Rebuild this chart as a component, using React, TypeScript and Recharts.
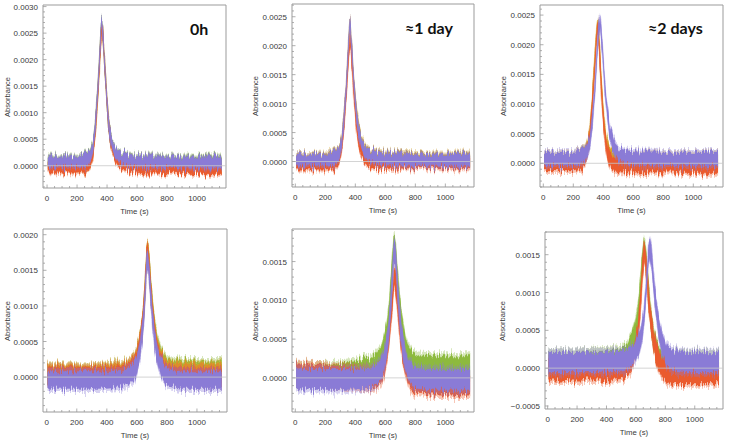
import React from "react";
import { ComposedChart, Area, XAxis, YAxis, ReferenceLine, ReferenceArea } from "recharts";

const PURPLE = "#8a7bd6";
const RED = "#ea5b2e";
const YELLOW = "#d3a62b";
const GREEN = "#8dba3e";
const FRAME = "#9b9b9b";
const LABEL = "#3a3a3a";
const FONT = "'Liberation Sans', Arial, sans-serif";

// time axis labels, shared by all six panels
const xTickLabels = [0, 200, 400, 600, 800, 1000];

// 0h
const p1Time = [5, 100, 200, 260, 290, 305, 320, 335, 350, 360, 366, 372, 382, 395, 410, 425, 445, 470, 500, 550, 650, 800, 950, 1165];
const p1Yellow = [0.0, 0.0, -0.00001, 0.0, 0.00008, 0.00024, 0.0006, 0.0012, 0.0019, 0.0025, 0.0026, 0.0025, 0.002, 0.0014, 0.0008, 0.00048, 0.00025, 0.00013, 0.00006, 0.00002, 0.0, -0.00001, -0.00001, -0.00001];
const p1Green = [0.00009, 0.00009, 0.00009, 0.00011, 0.0002, 0.00037, 0.0007, 0.0013, 0.002, 0.0026, 0.0027, 0.0025, 0.002, 0.0014, 0.0008, 0.0005, 0.0003, 0.0002, 0.00015, 0.00011, 0.00009, 0.00009, 0.00009, 0.00009];
const p1Red = [-0.00004, -0.00004, -0.00004, -0.00002, 0.00006, 0.00022, 0.00058, 0.0012, 0.0019, 0.0024, 0.0026, 0.0025, 0.002, 0.0014, 0.0008, 0.00045, 0.00022, 0.0001, 0.00003, -0.00001, -0.00004, -0.00005, -0.00005, -0.00005];
const p1Purple = [0.00008, 0.00008, 0.00008, 0.0001, 0.00018, 0.00035, 0.0007, 0.0013, 0.002, 0.0026, 0.0027, 0.0025, 0.002, 0.0014, 0.0008, 0.0005, 0.0003, 0.0002, 0.00014, 0.0001, 0.00008, 0.00008, 0.00007, 0.00007];
const p1YLabels = [0, 0.0005, 0.001, 0.0015, 0.002, 0.0025, 0.003];

// ≈1 day
const p2Time = [5, 100, 200, 260, 290, 305, 320, 335, 350, 358, 364, 370, 380, 392, 408, 425, 445, 470, 500, 550, 650, 800, 950, 1165];
const p2Yellow = [0.00004, 0.00004, 0.00005, 0.00007, 0.00014, 0.0003, 0.00062, 0.0011, 0.0018, 0.0022, 0.0024, 0.0022, 0.0018, 0.0013, 0.00085, 0.00052, 0.0003, 0.00018, 0.00012, 0.00008, 0.00006, 0.00006, 0.00005, 0.00005];
const p2Red = [-0.00005, -0.00005, -0.00005, -0.00003, 0.00004, 0.0002, 0.0005, 0.001, 0.0016, 0.0019, 0.0021, 0.002, 0.0016, 0.0011, 0.0006, 0.00032, 0.00014, 0.00004, -0.00001, -0.00003, -0.00002, -0.00001, -0.00001, -0.00001];
const p2Purple = [0.00003, 0.00003, 0.00003, 0.00005, 0.00012, 0.00028, 0.0006, 0.0011, 0.0018, 0.0022, 0.0024, 0.0022, 0.0018, 0.0013, 0.0008, 0.00048, 0.00027, 0.00015, 0.0001, 0.00006, 0.00004, 0.00003, 0.00003, 0.00003];
const p2YLabels = [0, 0.0005, 0.001, 0.0015, 0.002, 0.0025];

// ≈2 days
const p3Time = [5, 100, 200, 250, 280, 300, 315, 330, 345, 355, 362, 370, 378, 386, 395, 410, 425, 440, 460, 480, 510, 560, 650, 800, 950, 1165];
const p3Yellow = [0.00006, 0.00006, 0.00006, 0.0001, 0.00018, 0.00035, 0.00065, 0.0012, 0.0018, 0.0022, 0.00235, 0.0022, 0.0018, 0.0014, 0.001, 0.00058, 0.0003, 0.00016, 0.0001, 0.00008, 0.00007, 0.00006, 0.00006, 0.00006, 0.00006, 0.00006];
const p3Red = [-0.00002, -0.00002, -0.00002, 0.0, 0.0001, 0.0003, 0.0006, 0.0011, 0.0017, 0.0021, 0.0023, 0.0021, 0.0017, 0.0013, 0.0009, 0.00048, 0.00022, 0.00008, 0.0, -0.00003, -0.00004, -0.00004, -0.00004, -0.00004, -0.00005, -0.00005];
const p3Purple = [0.00008, 0.00008, 0.00008, 0.0001, 0.00016, 0.00026, 0.00045, 0.0008, 0.0013, 0.0017, 0.002, 0.0023, 0.0024, 0.0022, 0.0019, 0.0013, 0.0009, 0.00058, 0.00035, 0.00022, 0.00014, 0.0001, 0.00009, 0.00008, 0.00008, 0.00008];
const p3YLabels = [0, 0.0005, 0.001, 0.0015, 0.002, 0.0025];

// second injection series
const p4Time = [5, 100, 200, 300, 400, 500, 550, 580, 600, 620, 635, 648, 658, 665, 672, 680, 690, 705, 720, 740, 760, 790, 830, 900, 1000, 1165];
const p4Green = [0.00003, 0.00003, 0.00003, 0.00003, 0.00004, 0.00006, 0.00009, 0.00016, 0.00027, 0.00046, 0.0007, 0.001, 0.0014, 0.0017, 0.00175, 0.00165, 0.00135, 0.00096, 0.00065, 0.00042, 0.00028, 0.00017, 0.00012, 0.0001, 0.0001, 0.0001];
const p4Yellow = [0.00004, 0.00004, 0.00004, 0.00004, 0.00005, 0.00007, 0.0001, 0.00017, 0.00028, 0.00048, 0.00072, 0.00102, 0.00142, 0.00172, 0.00178, 0.00165, 0.00135, 0.00095, 0.00063, 0.0004, 0.00025, 0.00014, 0.00009, 0.00007, 0.00007, 0.00007];
const p4Red = [0.00002, 0.00002, 0.00002, 0.00002, 0.00002, 0.00004, 0.00008, 0.00015, 0.00026, 0.00045, 0.0007, 0.001, 0.0014, 0.0017, 0.00175, 0.0016, 0.0013, 0.0009, 0.00058, 0.00034, 0.0002, 0.00008, 0.00003, 0.00001, 0.00001, 0.00001];
const p4Purple = [-0.00004, -0.00004, -0.00004, -0.00004, -0.00004, -0.00002, 0.00002, 0.00008, 0.00018, 0.00036, 0.0006, 0.0009, 0.0013, 0.0016, 0.00165, 0.0015, 0.0012, 0.0008, 0.0005, 0.00028, 0.00014, 0.00003, -0.00002, -0.00004, -0.00004, -0.00004];
const p4YLabels = [0, 0.0005, 0.001, 0.0015, 0.002];

const p5Time = [5, 100, 200, 300, 400, 500, 540, 570, 590, 610, 625, 638, 648, 656, 662, 670, 680, 695, 710, 730, 750, 780, 820, 900, 1000, 1165];
const p5Green = [0.00003, 0.00003, 0.00004, 0.00006, 0.00008, 0.00012, 0.00018, 0.00026, 0.00038, 0.0006, 0.00085, 0.0012, 0.0015, 0.0017, 0.0017, 0.00158, 0.0013, 0.00095, 0.00068, 0.00045, 0.0003, 0.0002, 0.00016, 0.00015, 0.00015, 0.00015];
const p5Red = [0.00004, 0.00004, 0.00003, 0.00002, 0.0, -0.00001, 0.00001, 0.00006, 0.00015, 0.00033, 0.00055, 0.0008, 0.001, 0.00125, 0.0013, 0.0012, 0.001, 0.00068, 0.0004, 0.0002, 0.00006, -0.00004, -0.00007, -0.00008, -0.00008, -0.00008];
const p5Purple = [-0.00001, -0.00002, -0.00002, -0.00002, -0.00002, 0.0, 0.00004, 0.0001, 0.0002, 0.0004, 0.00065, 0.001, 0.0013, 0.0016, 0.00165, 0.0015, 0.0012, 0.0008, 0.0005, 0.00026, 0.00012, 0.00003, -0.00001, -0.00002, -0.00002, -0.00002];
const p5YLabels = [0, 0.0005, 0.001, 0.0015];

const p6Time = [5, 100, 200, 300, 400, 500, 540, 570, 595, 615, 632, 645, 655, 665, 675, 685, 695, 705, 718, 735, 755, 780, 810, 850, 950, 1165];
const p6Green = [0.00008, 0.00008, 0.00008, 0.00009, 0.0001, 0.00013, 0.0002, 0.00032, 0.00048, 0.00072, 0.0011, 0.0014, 0.0016, 0.0015, 0.0013, 0.001, 0.0008, 0.0006, 0.00042, 0.00026, 0.00015, 0.00009, 0.00007, 0.00007, 0.00007, 0.00007];
const p6Red = [-0.00003, -0.00003, -0.00003, -0.00003, -0.00003, -0.00001, 0.00003, 0.0001, 0.00025, 0.0005, 0.0009, 0.0013, 0.00155, 0.00145, 0.0012, 0.00095, 0.00075, 0.00058, 0.0004, 0.00022, 0.0001, 0.0, -0.00005, -0.00008, -0.00008, -0.00008];
const p6Purple = [0.00008, 0.00008, 0.00008, 0.00008, 0.00009, 0.0001, 0.00012, 0.00016, 0.00022, 0.0003, 0.0004, 0.00052, 0.00068, 0.00092, 0.0012, 0.0015, 0.00158, 0.0015, 0.0012, 0.00085, 0.00055, 0.0003, 0.00017, 0.0001, 0.00008, 0.00008];
const p6YLabels = [-0.0005, 0, 0.0005, 0.001, 0.0015];

interface Trace {
  key: string;
  color: string;
  values: number[];
}

interface PanelSpec {
  title?: string;
  titleLeft?: number;
  titleTop?: number;
  left: number;
  top: number;
  width: number;
  height: number;
  xDomain: [number, number];
  yDomain: [number, number];
  yLabels: number[];
  time: number[];
  traces: Trace[];
  noise: [number, number]; // [dense band half-width, spike half-width]
  absGap: number;
}

const panels: PanelSpec[] = [
  {
    title: "0h", titleLeft: 190, titleTop: 21,
    left: 43, top: 5, width: 183, height: 183,
    xDomain: [-27, 1193], yDomain: [-0.00042, 0.00303], yLabels: p1YLabels,
    time: p1Time, noise: [0.0001, 0.00014], absGap: 35,
    traces: [
      { key: "yellow", color: YELLOW, values: p1Yellow },
      { key: "green", color: GREEN, values: p1Green },
      { key: "red", color: RED, values: p1Red },
      { key: "purple", color: PURPLE, values: p1Purple },
    ],
  },
  {
    title: "≈1 day", titleLeft: 405, titleTop: 20,
    left: 292, top: 4, width: 182, height: 183,
    xDomain: [-22, 1191], yDomain: [-0.00044, 0.00272], yLabels: p2YLabels,
    time: p2Time, noise: [0.0001, 0.00014], absGap: 36,
    traces: [
      { key: "yellow", color: YELLOW, values: p2Yellow },
      { key: "red", color: RED, values: p2Red },
      { key: "purple", color: PURPLE, values: p2Purple },
    ],
  },
  {
    title: "≈2 days", titleLeft: 648, titleTop: 20,
    left: 540, top: 5, width: 183, height: 182,
    xDomain: [-22, 1198], yDomain: [-0.0004, 0.00267], yLabels: p3YLabels,
    time: p3Time, noise: [0.00011, 0.00016], absGap: 36,
    traces: [
      { key: "yellow", color: YELLOW, values: p3Yellow },
      { key: "red", color: RED, values: p3Red },
      { key: "purple", color: PURPLE, values: p3Purple },
    ],
  },
  {
    left: 43, top: 229, width: 184, height: 183,
    xDomain: [-25, 1200], yDomain: [-0.00049, 0.00208], yLabels: p4YLabels,
    time: p4Time, noise: [0.00012, 0.00017], absGap: 35,
    traces: [
      { key: "green", color: GREEN, values: p4Green },
      { key: "yellow", color: YELLOW, values: p4Yellow },
      { key: "red", color: RED, values: p4Red },
      { key: "purple", color: PURPLE, values: p4Purple },
    ],
  },
  {
    left: 292, top: 229, width: 182, height: 183,
    xDomain: [-22, 1191], yDomain: [-0.00044, 0.00192], yLabels: p5YLabels,
    time: p5Time, noise: [0.00013, 0.00018], absGap: 36,
    traces: [
      { key: "green", color: GREEN, values: p5Green },
      { key: "red", color: RED, values: p5Red },
      { key: "purple", color: PURPLE, values: p5Purple },
    ],
  },
  {
    left: 545, top: 232, width: 178, height: 177,
    xDomain: [-18, 1192], yDomain: [-0.00054, 0.0018], yLabels: p6YLabels,
    time: p6Time, noise: [0.00013, 0.00018], absGap: 42,
    traces: [
      { key: "green", color: GREEN, values: p6Green },
      { key: "red", color: RED, values: p6Red },
      { key: "purple", color: PURPLE, values: p6Purple },
    ],
  },
];

// major ticks get labels, minor ones are just short inward marks
const xTicks: number[] = [];
for (let t = 0; t <= 1150; t += 50) xTicks.push(t);

function minorYTicks([lo, hi]: [number, number]) {
  const out: number[] = [];
  for (let k = Math.ceil(lo * 1e4); k <= Math.floor(hi * 1e4); k++) out.push(k / 1e4);
  return out;
}

function isMajor(v: number, step: number) {
  return Math.abs(v / step - Math.round(v / step)) < 1e-6;
}

function XTick(props: any) {
  const { x, y, payload } = props;
  const v = payload.value as number;
  const major = xTickLabels.includes(v);
  return (
    <g>
      <line x1={x} x2={x} y1={y} y2={y - (major ? 3.5 : 2)} stroke={FRAME} strokeWidth={0.8} />
      {major && (
        <text x={x} y={y + 13} textAnchor="middle" fontSize={8} fill={LABEL} fontFamily={FONT}>
          {v}
        </text>
      )}
    </g>
  );
}

function YTick(props: any) {
  const { x, y, payload } = props;
  const v = payload.value as number;
  const major = isMajor(v, 0.0005);
  const text = (v < 0 ? "−" : "") + Math.abs(v).toFixed(4);
  return (
    <g>
      <line x1={x} x2={x + (major ? 3.5 : 2)} y1={y} y2={y} stroke={FRAME} strokeWidth={0.8} />
      {major && (
        <text x={x - 5} y={y + 3} textAnchor="end" fontSize={8} fill={LABEL} fontFamily={FONT}>
          {text}
        </text>
      )}
    </g>
  );
}

const YW = 44;
const XH = 22;

function Panel({ spec }: { spec: PanelSpec }) {
  const [core, spike] = spec.noise;
  const rows = spec.time.map((t, i) => {
    const row: Record<string, number | number[]> = { t };
    spec.traces.forEach((tr) => {
      const v = tr.values[i];
      row[tr.key] = [v - core, v + core];
      row[tr.key + "Spike"] = [v - spike, v + spike];
    });
    return row;
  });

  const areas = spec.traces.flatMap((tr) => [
    <Area
      key={tr.key + "Spike"}
      dataKey={tr.key + "Spike"}
      type="linear"
      stroke="none"
      fill={tr.color}
      fillOpacity={0.35}
      dot={false}
      activeDot={false}
      isAnimationActive={false}
    />,
    <Area
      key={tr.key}
      dataKey={tr.key}
      type="linear"
      stroke={tr.color}
      strokeWidth={0.4}
      fill={tr.color}
      fillOpacity={1}
      dot={false}
      activeDot={false}
      isAnimationActive={false}
    />,
  ]);

  return (
    <>
      <div className="trace-panel" style={{ position: "absolute", left: spec.left - YW, top: spec.top - 1 }}>
        <ComposedChart
          width={YW + spec.width + 1}
          height={spec.height + 1 + XH}
          data={rows}
          margin={{ top: 1, right: 1, bottom: 0, left: 0 }}
        >
          <XAxis
            dataKey="t"
            type="number"
            domain={spec.xDomain}
            allowDataOverflow
            ticks={xTicks}
            interval={0}
            tickSize={0}
            tickMargin={0}
            axisLine={false}
            tickLine={false}
            tick={(p: any) => <XTick {...p} />}
            height={XH}
          />
          <YAxis
            type="number"
            domain={spec.yDomain}
            allowDataOverflow
            ticks={minorYTicks(spec.yDomain)}
            interval={0}
            tickSize={0}
            tickMargin={0}
            axisLine={false}
            tickLine={false}
            tick={(p: any) => <YTick {...p} />}
            width={YW}
          />
          <ReferenceLine y={0} stroke="#c8c8c8" strokeWidth={0.8} />
          {areas}
          <ReferenceArea
            x1={spec.xDomain[0]}
            x2={spec.xDomain[1]}
            y1={spec.yDomain[0]}
            y2={spec.yDomain[1]}
            fill="none"
            stroke={FRAME}
            strokeWidth={1}
            ifOverflow="visible"
          />
        </ComposedChart>
      </div>
      <div
        style={{
          position: "absolute",
          left: spec.left - spec.absGap,
          top: spec.top + spec.height / 2,
          transform: "translate(-50%, -50%) rotate(-90deg)",
          fontFamily: FONT,
          fontSize: 7.5,
          color: LABEL,
          whiteSpace: "nowrap",
          lineHeight: 1,
        }}
      >
        Absorbance
      </div>
      <div
        style={{
          position: "absolute",
          left: spec.left + spec.width / 2,
          top: spec.top + spec.height + 24,
          transform: "translate(-50%, -50%)",
          fontFamily: FONT,
          fontSize: 7.8,
          color: LABEL,
          whiteSpace: "nowrap",
          lineHeight: 1,
        }}
      >
        Time (s)
      </div>
      {spec.title && (
        <div
          style={{
            position: "absolute",
            left: spec.titleLeft,
            top: spec.titleTop,
            fontFamily: "Lato, 'Open Sans', sans-serif",
            fontWeight: 700,
            fontSize: 16,
            lineHeight: 1,
            color: "#111",
            whiteSpace: "nowrap",
          }}
        >
          {spec.title}
        </div>
      )}
    </>
  );
}

export default function App() {
  return (
    <div style={{ position: "absolute", left: 0, top: 0, width: 729, height: 441, background: "#fff", overflow: "hidden" }}>
      {/* vertical jitter so the trace bands get the ragged edges of raw detector noise */}
      <svg width={0} height={0} style={{ position: "absolute" }}>
        <defs>
          <filter id="detector-noise" x="-5%" y="-20%" width="110%" height="140%" colorInterpolationFilters="sRGB">
            <feTurbulence type="fractalNoise" baseFrequency="0.9 0.05" numOctaves={2} seed={4} result="turb" />
            <feColorMatrix
              in="turb"
              type="matrix"
              values="0 0 0 0 0.5  1 0 0 0 0  0 0 0 0 0  0 0 0 0 1"
              result="map"
            />
            <feDisplacementMap in="SourceGraphic" in2="map" scale={14} xChannelSelector="R" yChannelSelector="G" />
          </filter>
        </defs>
      </svg>
      <style>{`.trace-panel .recharts-area { filter: url(#detector-noise); }`}</style>
      {panels.map((p, i) => (
        <Panel key={i} spec={p} />
      ))}
    </div>
  );
}
